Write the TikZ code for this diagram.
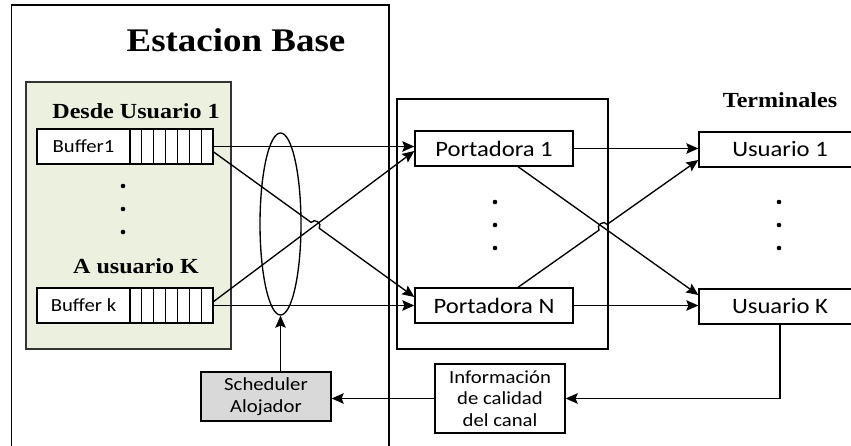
\documentclass[tikz,border=0pt]{standalone}
\usepackage{fontspec}
\setmainfont{Liberation Serif}[FakeStretch=1.12]
\newfontfamily\boxfont{Carlito}[FakeStretch=1.12]
\usetikzlibrary{arrows.meta,calc,intersections,shapes.geometric}
\definecolor{bufgreen}{RGB}{235,241,222}
\definecolor{schedgray}{RGB}{217,217,217}
\tikzset{
  box/.style={draw, rectangle, inner sep=0pt, align=center, font=\boxfont\fontsize{18.5}{21.5}\selectfont},
  bigbox/.style={box, font=\boxfont\fontsize{22}{26}\selectfont},
  heading/.style={anchor=base, inner sep=0pt, font=\bfseries\fontsize{21.5}{24}\selectfont},
  conn/.style={-{Stealth[length=12pt,width=10.5pt,inset=2pt]}},
  dot/.style={fill, circle, inner sep=0pt, minimum size=4.6pt}
}
\begin{document}
\begin{tikzpicture}[x=1pt,y=-1pt,line width=1.35pt]
\useasboundingbox (0,0) rectangle (851,446);
\clip (0,0) rectangle (851,446);

% base station frame and title
\draw (11.5,460) -- (11.5,5) -- (389,5) -- (389,460);
\node[anchor=base, inner sep=0pt, font=\bfseries\fontsize{33}{38}\selectfont] (bstitle) at (236,52) {Estacion Base};

% buffer area
\node[draw=black!80, fill=bufgreen, minimum width=205pt, minimum height=267pt, inner sep=0pt] (green) at (128.5,215.5) {};
\node[heading] (from1) at (136,119) {Desde Usuario 1};
\node[heading] (toK) at (136,273) {A usuario K};

\node[box, fill=white, minimum width=93pt, minimum height=35pt] (b1) at (83.5,146.5) {Buffer1};
\node[box, fill=white, minimum width=83pt, minimum height=35pt] (q1) at (171.5,146.5) {};
\node[box, fill=white, minimum width=93pt, minimum height=35pt] (bk) at (83.5,305.5) {Buffer k};
\node[box, fill=white, minimum width=83pt, minimum height=35pt] (qk) at (171.5,305.5) {};
\foreach \q in {q1,qk}
  \foreach \i in {1,...,6}
    \draw ($(\q.south west)!\i/7!(\q.south east)$) -- ($(\q.north west)!\i/7!(\q.north east)$);

\node[dot] (ld1) at (123,186) {};
\node[dot] (ld2) at (123,209) {};
\node[dot] (ld3) at (123,232) {};

% scheduler selection
\node[draw, ellipse, minimum width=41pt, minimum height=182pt, inner sep=0pt] (sel) at (280.5,224) {};
\node[box, fill=schedgray, minimum width=130pt, minimum height=49pt] (sched) at (266,396.5) {Scheduler\\Alojador};

% carriers
\node[draw, minimum width=211pt, minimum height=250pt, inner sep=0pt] (carriers) at (502.5,224) {};
\node[bigbox, minimum width=158pt, minimum height=35pt] (p1) at (494,148.5) {Portadora 1};
\node[bigbox, minimum width=158pt, minimum height=35pt] (pN) at (494,305.5) {Portadora N};
\node[dot] (md1) at (495,202) {};
\node[dot] (md2) at (495,225) {};
\node[dot] (md3) at (495,248) {};

% terminals
\node[heading] (term) at (780,108) {Terminales};
\node[bigbox, minimum width=162pt, minimum height=35pt] (u1) at (780,149.5) {Usuario 1};
\node[bigbox, minimum width=162pt, minimum height=35pt] (uK) at (780,306.5) {Usuario K};
\node[dot] (rd1) at (779,202) {};
\node[dot] (rd2) at (779,225) {};
\node[dot] (rd3) at (779,248) {};

% channel quality feedback
\node[box, minimum width=130pt, minimum height=69pt] (info) at (500,398.5) {Información\\de calidad\\del canal};

% buffers -> carriers
\coordinate (q1a) at ($(q1.east)+(0,5.5)$);
\coordinate (qka) at ($(qk.east)+(0,-4)$);
\coordinate (p1in) at ($(p1.west)+(0,2.5)$);
\coordinate (pNin) at ($(pN.west)+(0,-8.5)$);
\draw[conn] (q1.east) -- (q1.east -| p1.west);
\draw[conn] (qk.east) -- (qk.east -| pN.west);
\path[name path=la] (q1a) -- (pNin);
\path[name path=lb] (qka) -- (p1in);
\path[name intersections={of=la and lb, by=xa}];
\draw[conn] (q1a) -- ($(xa)!5pt!(q1a)$) to[bend left=90, looseness=1.5] ($(xa)!5pt!(pNin)$) -- (pNin);
\draw[conn] (qka) -- (p1in);

% carriers -> terminals
\coordinate (p1b) at ($(p1.south)+(24,0)$);
\coordinate (pNt) at ($(pN.north)+(24,0)$);
\coordinate (u1in) at ($(u1.west)+(0,10.5)$);
\coordinate (uKin) at ($(uK.west)+(0,-11.5)$);
\draw[conn] (p1.east) -- (p1.east -| u1.west);
\draw[conn] (pN.east) -- (pN.east -| uK.west);
\path[name path=lc] (p1b) -- (uKin);
\path[name path=ld] (pNt) -- (u1in);
\path[name intersections={of=lc and ld, by=xb}];
\draw[conn] (p1b) -- (uKin);
\draw[conn] (pNt) -- ($(xb)!5pt!(pNt)$) to[bend left=90, looseness=1.5] ($(xb)!5pt!(u1in)$) -- (u1in);

% feedback loop
\draw[conn] (uK.south) |- (info.east);
\draw[conn] (info.west) -- (info.west -| sched.east);
\draw[conn] (sel.south |- sched.north) -- (sel.south);
\end{tikzpicture}
\end{document}
